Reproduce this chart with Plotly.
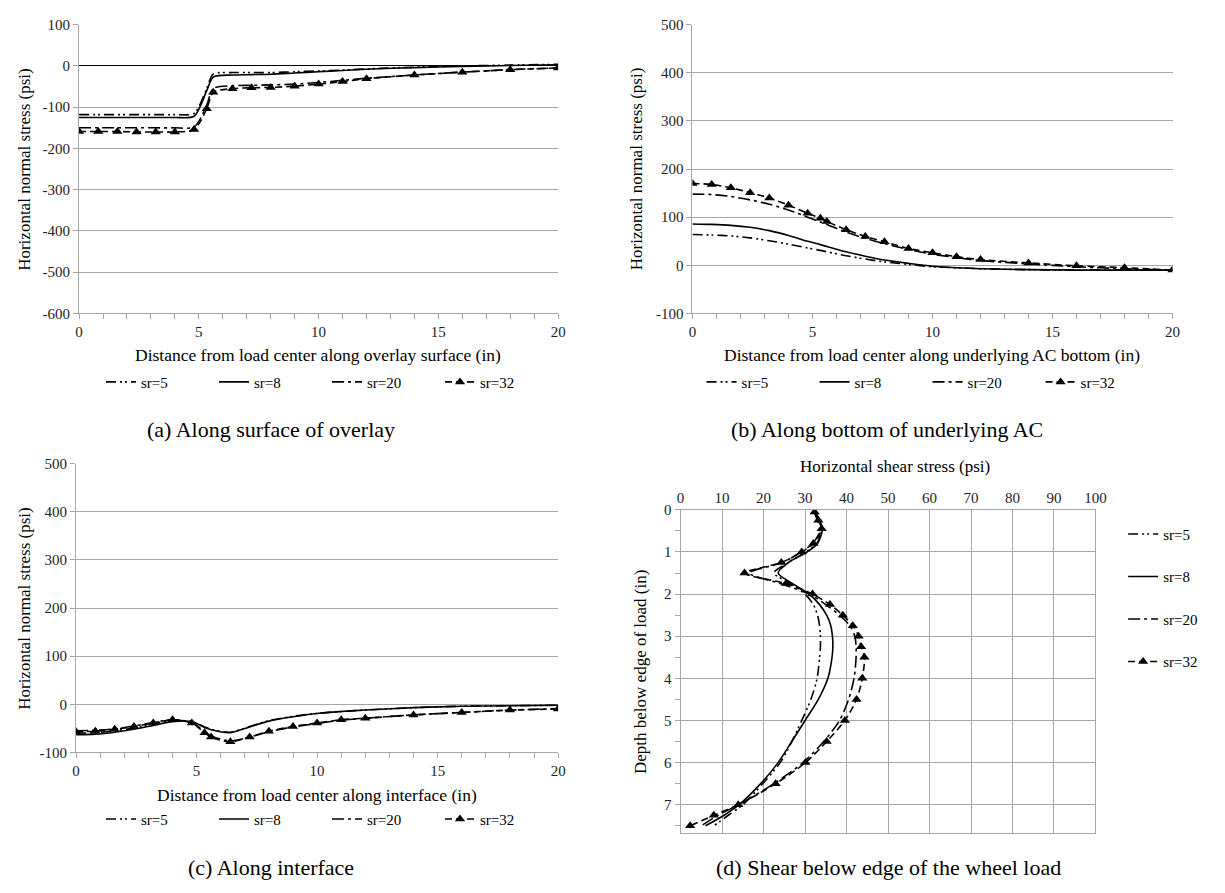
import plotly.graph_objects as go

FONT = "Liberation Serif, Times New Roman, serif"
W, H = 1225, 893

# ---------------- data ----------------
# (a) along surface of overlay
xa = [0, 0.8, 1.6, 2.4, 3.2, 4.0, 4.8, 5.33, 5.6, 6.4, 7.2, 8, 9, 10, 11, 12, 14, 16, 18, 20]
a_sr5 = [-118, -118, -118, -118, -118, -118, -115, -55, -20, -16, -16, -16, -14, -12, -10, -7, -3, 0, 2, 4]
a_sr8 = [-125, -125, -125, -125, -125, -125, -122, -60, -27, -22, -21, -20, -17, -14, -11, -8, -4, -1, 1, 3]
a_sr20 = [-150, -150, -150, -150, -150, -150, -148, -95, -55, -48, -47, -46, -44, -40, -35, -30, -22, -15, -9, -5]
a_sr32 = [-159, -159, -159, -160, -160, -160, -154, -104, -64, -55, -53, -52, -49, -44, -38, -31, -22, -15, -9, -5]

# (b) along bottom of underlying AC
xb = [0, 0.8, 1.6, 2.4, 3.2, 4.0, 4.8, 5.33, 5.6, 6.4, 7.2, 8, 9, 10, 11, 12, 14, 16, 18, 20]
b_sr5 = [64, 63, 61, 57, 51, 44, 36, 31, 28, 20, 13, 7, 2, -3, -5, -7, -9, -10, -10, -10]
b_sr8 = [86, 85, 83, 79, 72, 62, 50, 43, 39, 28, 19, 11, 4, -2, -5, -7, -9, -10, -10, -10]
b_sr20 = [148, 147, 143, 136, 127, 115, 100, 90, 85, 69, 56, 45, 33, 23, 16, 10, 3, -3, -7, -10]
b_sr32 = [170, 168, 161, 151, 140, 125, 108, 98, 91, 74, 60, 49, 35, 26, 18, 12, 5, -1, -5, -10]

# (c) along interface
xc = [0, 0.8, 1.6, 2.4, 3.2, 4.0, 4.8, 5.33, 5.6, 6.4, 7.2, 8, 9, 10, 11, 12, 14, 16, 18, 20]
c_sr5 = [-60, -59, -55, -49, -41, -34, -36, -47, -52, -58, -46, -34, -25, -19, -15, -12, -7, -4, -3, -2]
c_sr8 = [-63, -62, -58, -52, -44, -36, -36, -48, -53, -59, -47, -35, -26, -19, -15, -12, -7, -4, -3, -2]
c_sr20 = [-55, -54, -51, -45, -38, -32, -38, -57, -66, -76, -68, -57, -47, -40, -33, -29, -22, -17, -12, -9]
c_sr32 = [-57, -56, -52, -46, -39, -32, -39, -59, -68, -78, -68, -56, -46, -39, -32, -29, -22, -17, -12, -10]

# (d) shear below edge of the wheel load
depth = [0.05, 0.25, 0.45, 0.8, 1.0, 1.25, 1.5, 1.75, 2.0, 2.25, 2.5, 2.75, 3.0, 3.25, 3.5,
         4.0, 4.5, 5.0, 5.5, 6.0, 6.5, 7.0, 7.25, 7.5]
d_sr5 = [32.3, 33.3, 34.0, 32.8, 30.2, 26.0, 22.5, 26.5, 30.0, 32.0, 33.0, 33.5, 33.7, 33.7, 33.5,
         32.9, 31.4, 29.2, 26.8, 24.0, 19.8, 15.0, 11.5, 8.0]
d_sr8 = [32.5, 33.5, 34.2, 33.0, 30.5, 26.0, 23.5, 27.0, 31.0, 33.5, 35.2, 36.2, 36.6, 36.7, 36.5,
         35.5, 33.2, 30.0, 26.8, 23.5, 19.3, 14.1, 10.5, 6.0]
d_sr20 = [32.2, 33.0, 33.8, 31.8, 29.0, 24.5, 16.5, 24.0, 31.0, 35.0, 38.3, 40.8, 42.0, 42.3, 42.3,
          41.8, 40.5, 38.3, 34.5, 29.5, 22.5, 14.0, 9.0, 5.0]
d_sr32 = [32.3, 33.2, 34.0, 32.0, 29.2, 24.3, 15.4, 25.4, 31.8, 36.0, 39.1, 41.5, 42.9, 43.5, 44.3,
          43.8, 42.4, 39.6, 35.2, 30.1, 22.9, 13.9, 8.0, 2.3]

series_names = ["sr=5", "sr=8", "sr=20", "sr=32"]
dashes = ["10px,4px,2px,3px,2px,4px", "solid", "12px,4px,3px,4px", "7px,4px"]

# y tick labels (plain hyphen minus as in the original)
ya_ticks = [100, 0, -100, -200, -300, -400, -500, -600]
ybc_ticks = [500, 400, 300, 200, 100, 0, -100]

# ---------------- helpers ----------------
def px_x(p):
    return p / W

def px_y(p):
    return 1 - p / H

GRID = "#a6a6a6"
TICKFONT = dict(family=FONT, size=15, color="#222")

fig = go.Figure()

panels = [
    ("x", "y", "legend", xa, [a_sr5, a_sr8, a_sr20, a_sr32]),
    ("x2", "y2", "legend2", xb, [b_sr5, b_sr8, b_sr20, b_sr32]),
    ("x3", "y3", "legend3", xc, [c_sr5, c_sr8, c_sr20, c_sr32]),
]
for xax, yax, leg, xs, ys_list in panels:
    for name, dash, ys in zip(series_names, dashes, ys_list):
        tri = name == "sr=32"
        fig.add_trace(go.Scatter(
            x=xs, y=ys, name=name, xaxis=xax, yaxis=yax, legend=leg,
            mode="lines+markers" if tri else "lines",
            line=dict(color="black", width=1.6, dash=dash, shape="spline", smoothing=0.8),
            marker=dict(symbol="triangle-up", size=9, color="black"),
        ))

for i, (name, dash, xs) in enumerate(zip(series_names, dashes, [d_sr5, d_sr8, d_sr20, d_sr32])):
    tri = name == "sr=32"
    fig.add_trace(go.Scatter(
        x=xs, y=depth, name=name, xaxis="x4", yaxis="y4", legend="legend4",
        legendgroup="d%d" % i,
        mode="lines+markers" if tri else "lines",
        line=dict(color="black", width=1.6, dash=dash, shape="spline", smoothing=0.8),
        marker=dict(symbol="triangle-up", size=9, color="black"),
    ))

def xaxis_cfg(dom, anchor):
    return dict(domain=dom, anchor=anchor, range=[0, 20], tickmode="array",
                tickvals=list(range(21)),
                ticktext=[str(v) if v % 5 == 0 else "" for v in range(21)],
                ticks="outside", ticklen=5, tickcolor=GRID, showgrid=False,
                showline=True, linecolor=GRID, linewidth=1, zeroline=False,
                tickfont=TICKFONT)

def yaxis_cfg(dom, anchor, rng, tv, zero_black=False):
    return dict(domain=dom, anchor=anchor, range=rng, tickmode="array",
                tickvals=tv, ticktext=[str(v) for v in tv],
                ticks="outside", ticklen=5, tickcolor=GRID, showgrid=True,
                gridcolor=GRID, gridwidth=1, showline=True, linecolor=GRID,
                zeroline=zero_black, zerolinecolor="black", zerolinewidth=1,
                tickfont=TICKFONT)

dom_ax = [px_x(76), px_x(561)]
dom_bx = [px_x(697), px_x(1183)]
dom_cx = [px_x(73), px_x(561)]
dom_dx = [px_x(685), px_x(1105)]
dom_aby = [px_y(311), px_y(17)]
dom_cy = [px_y(758), px_y(464)]
dom_dy = [px_y(840), px_y(511)]

legend_common = dict(orientation="h", xanchor="center", yanchor="middle",
                     entrywidth=68, entrywidthmode="pixels",
                     font=dict(family=FONT, size=15, color="black"),
                     bgcolor="rgba(0,0,0,0)")

fig.update_layout(
    width=W, height=H, margin=dict(l=0, r=0, t=0, b=0),
    paper_bgcolor="white", plot_bgcolor="white",
    font=dict(family=FONT, color="black"),
    xaxis=xaxis_cfg(dom_ax, "y"),
    yaxis=yaxis_cfg(dom_aby, "x", [-600, 100], ya_ticks, zero_black=True),
    xaxis2=xaxis_cfg(dom_bx, "y2"),
    yaxis2=yaxis_cfg(dom_aby, "x2", [-100, 500], ybc_ticks),
    xaxis3=xaxis_cfg(dom_cx, "y3"),
    yaxis3=yaxis_cfg(dom_cy, "x3", [-100, 500], ybc_ticks),
    xaxis4=dict(domain=dom_dx, anchor="y4", side="top", range=[0, 100], dtick=10, tick0=0,
                ticks="", showgrid=True, gridcolor=GRID, showline=True, mirror=True,
                linecolor=GRID, zeroline=False, tickfont=TICKFONT),
    yaxis4=dict(domain=dom_dy, anchor="x4", range=[7.67, 0], tickmode="array",
                tickvals=list(range(8)), ticks="outside", ticklen=5, tickcolor=GRID,
                minor=dict(tickvals=[0.5, 1.5, 2.5, 3.5, 4.5, 5.5, 6.5, 7.5], ticks="outside",
                           ticklen=5, tickcolor=GRID, showgrid=False),
                showgrid=True, gridcolor=GRID, showline=True, mirror=True, linecolor=GRID,
                zeroline=False, tickfont=TICKFONT),
    legend=dict(x=px_x(327), y=px_y(381), **legend_common),
    legend2=dict(x=px_x(935), y=px_y(381), **legend_common),
    legend3=dict(x=px_x(327), y=px_y(826), **legend_common),
    legend4=dict(x=px_x(1133), xanchor="left", y=px_y(519), yanchor="top",
                 orientation="v", tracegroupgap=20,
                 font=dict(family=FONT, size=15, color="black"),
                 bgcolor="rgba(0,0,0,0)"),
    showlegend=True,
)

ann = []
def add_text(text, x, y, size, angle=0):
    ann.append(dict(text=text, x=px_x(x), y=px_y(y), xref="paper", yref="paper",
                    showarrow=False, textangle=angle, xanchor="center", yanchor="middle",
                    font=dict(family=FONT, size=size, color="black")))

# axis titles
add_text("Distance from load center along overlay surface (in)", 318, 353, 17.5)
add_text("Distance from load center along underlying AC bottom (in)", 940, 353, 17.5)
add_text("Distance from load center along interface (in)", 317, 801, 17.5)
add_text("Horizontal shear stress (psi)", 902, 467, 17)
add_text("Horizontal normal stress (psi)", 20, 164, 17, -90)
add_text("Horizontal normal stress (psi)", 640, 164, 17, -90)
add_text("Horizontal normal stress (psi)", 20, 611, 17, -90)
add_text("Depth below edge of load (in)", 645, 676, 17, -90)
# sub-captions
add_text("(a) Along surface of overlay", 270, 429, 22)
add_text("(b) Along bottom of underlying AC", 894, 429, 22)
add_text("(c) Along interface", 270, 875, 22)
add_text("(d) Shear below edge of the wheel load", 895, 875, 22)

fig.update_layout(annotations=ann)

fig.write_html("out.html")
